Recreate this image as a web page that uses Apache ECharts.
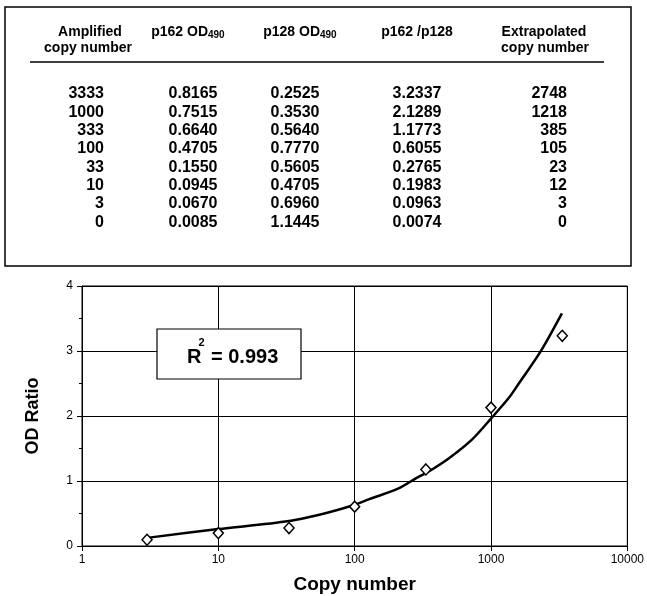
<!DOCTYPE html>
<html>
<head>
<meta charset="utf-8">
<title>OD ratio vs copy number</title>
<style>
  html, body { margin: 0; padding: 0; background: #fff; }
  #main { width: 647px; height: 596px; }
</style>
</head>
<body>
<div id="main"></div>
<script src="https://cdn.jsdelivr.net/npm/echarts@6/dist/echarts.min.js"></script>
<script>
// table data
var copyNumbers = [3333, 1000, 333, 100, 33, 10, 3, 0];
var p162Od = [0.8165, 0.7515, 0.6640, 0.4705, 0.1550, 0.0945, 0.0670, 0.0085];
var p128Od = [0.2525, 0.3530, 0.5640, 0.7770, 0.5605, 0.4705, 0.6960, 1.1445];
var odRatio = [3.2337, 2.1289, 1.1773, 0.6055, 0.2765, 0.1983, 0.0963, 0.0074];
var extrapolated = [2748, 1218, 385, 105, 23, 12, 3, 0];

// trend line
var trendX = [3, 10, 33, 65, 100, 128, 212, 281, 352, 492, 728, 1000, 1353, 1600, 2306, 3313];
var trendY = [0.125, 0.26, 0.385, 0.52, 0.635, 0.72, 0.89, 1.04, 1.15, 1.35, 1.64, 1.96, 2.28, 2.50, 2.99, 3.58];

var xTicks = [1, 10, 100, 1000, 10000];
var rSquared = '0.993';

var FONT = '"Liberation Sans", Arial, sans-serif';

// scatter points: only copy numbers > 0 fit on the log axis
var points = [];
for (var i = 0; i < copyNumbers.length; i++) {
    if (copyNumbers[i] > 0) points.push([copyNumbers[i], odRatio[i]]);
}
var trend = trendX.map(function (x, i) { return [x, trendY[i]]; });

function txt(x, y, s, size, align, extra) {
    var el = {
        type: 'text', x: x, y: y, z: 100,
        style: {
            text: s, fill: '#000',
            font: 'bold ' + size + 'px ' + FONT,
            textAlign: align || 'center', textVerticalAlign: 'middle'
        }
    };
    if (extra) for (var k in extra) el[k] = extra[k];
    return el;
}

var graphics = [
    { type: 'rect', z: 90, shape: { x: 5, y: 7, width: 626, height: 259 },
      style: { fill: '#fff', stroke: '#000', lineWidth: 1.5 } },
    { type: 'line', z: 100, shape: { x1: 30, y1: 62, x2: 604, y2: 62 },
      style: { stroke: '#000', lineWidth: 1.5 } },
    txt(90, 32, 'Amplified', 14),
    txt(88, 48, 'copy number', 14),
    txt(208, 32, 'p162 OD', 14, 'right'),
    txt(208, 35, '490', 10, 'left'),
    txt(320, 32, 'p128 OD', 14, 'right'),
    txt(320, 35, '490', 10, 'left'),
    txt(417, 32, 'p162 /p128', 14),
    txt(544, 32, 'Extrapolated', 14),
    txt(545, 48, 'copy number', 14)
];

var rowTop = 94, rowStep = 18.3;
for (var r = 0; r < copyNumbers.length; r++) {
    var y = rowTop + r * rowStep;
    graphics.push(txt(104, y, String(copyNumbers[r]), 16, 'right'));
    graphics.push(txt(193, y, p162Od[r].toFixed(4), 16));
    graphics.push(txt(295, y, p128Od[r].toFixed(4), 16));
    graphics.push(txt(417, y, odRatio[r].toFixed(4), 16));
    graphics.push(txt(567, y, String(extrapolated[r]), 16, 'right'));
}

// R^2 box
graphics.push({ type: 'rect', z: 90, shape: { x: 157, y: 329, width: 144, height: 50 },
    style: { fill: '#fff', stroke: '#000', lineWidth: 1.2 } });
graphics.push(txt(187, 357, 'R', 20, 'left'));
graphics.push(txt(198.5, 343, '2', 11, 'left'));
graphics.push(txt(211, 357, '= ' + rSquared, 20, 'left'));

var myChart = echarts.init(document.getElementById('main'));
var option = {
    backgroundColor: '#fff',
    animation: false,
    grid: {
        left: 82, right: 19, top: 286, bottom: 50,
        show: true, borderColor: '#000', borderWidth: 1
    },
    xAxis: {
        type: 'log', logBase: 10, min: 1, max: 10000,
        name: 'Copy number', nameLocation: 'middle', nameGap: 29,
        nameTextStyle: { fontFamily: FONT, fontWeight: 'bold', fontSize: 19, color: '#000' },
        axisLine: { lineStyle: { color: '#000', width: 1 } },
        axisTick: { show: true, inside: false, length: 5, lineStyle: { color: '#000' } },
        minorTick: { show: false },
        axisLabel: {
            margin: 8, color: '#000', fontFamily: FONT, fontSize: 12,
            formatter: function (v) { return xTicks.indexOf(v) >= 0 ? String(v) : ''; }
        },
        splitLine: { show: true, lineStyle: { color: '#000', width: 1 } }
    },
    yAxis: {
        type: 'value', min: 0, max: 4, interval: 1,
        name: 'OD Ratio', nameLocation: 'middle', nameGap: 40, nameRotate: 90,
        nameTextStyle: { fontFamily: FONT, fontWeight: 'bold', fontSize: 18, color: '#000' },
        axisLine: { show: true, lineStyle: { color: '#000', width: 1 } },
        axisTick: { show: true, inside: false, length: 5, lineStyle: { color: '#000' } },
        minorTick: { show: true, splitNumber: 2, length: 3, lineStyle: { color: '#000' } },
        axisLabel: { margin: 9, color: '#000', fontFamily: FONT, fontSize: 12 },
        splitLine: { show: true, lineStyle: { color: '#000', width: 1 } }
    },
    series: [
        {
            type: 'line', data: trend, smooth: 0.3, showSymbol: false, symbol: 'none',
            lineStyle: { color: '#000', width: 2.5 }, z: 3
        },
        {
            type: 'scatter', data: points, symbol: 'diamond', symbolSize: [10, 11],
            itemStyle: { color: '#fff', borderColor: '#000', borderWidth: 1.5, opacity: 1 }, z: 4
        }
    ],
    graphic: graphics
};
myChart.setOption(option);
</script>
</body>
</html>
